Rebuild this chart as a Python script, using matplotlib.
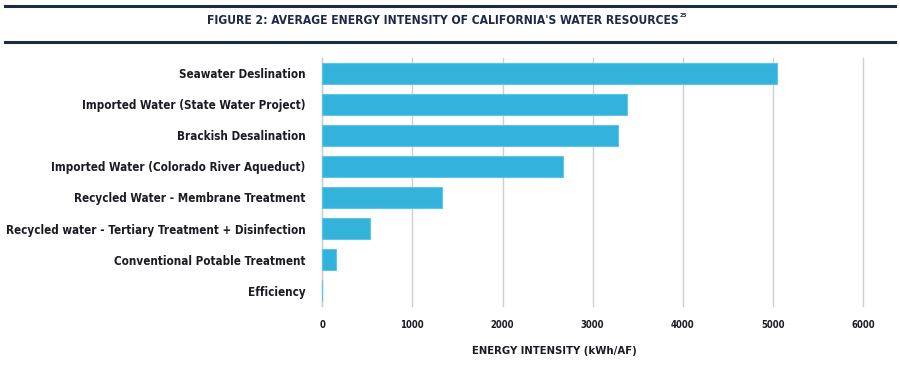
import matplotlib
matplotlib.use('Agg')
import matplotlib.pyplot as plt
from matplotlib.lines import Line2D

categories = ['Seawater Deslination',
              'Imported Water (State Water Project)',
              'Brackish Desalination',
              'Imported Water (Colorado River Aqueduct)',
              'Recycled Water - Membrane Treatment',
              'Recycled water - Tertiary Treatment + Disinfection',
              'Conventional Potable Treatment',
              'Efficiency']
values = [5050, 3385, 3285, 2670, 1330, 530, 155, 0]
xticks = [0, 1000, 2000, 3000, 4000, 5000, 6000]

FONT = ['DejaVu Sans']
NAVY = '#1e2a45'
TEXT = '#1b1b24'
BAR = '#33b3dc'

fig = plt.figure(figsize=(9, 3.71), dpi=100)
renderer = fig.canvas.get_renderer()


def fit_size(s, width_px, size=10):
    # font size that makes string s about width_px wide
    t = fig.text(0, 0, s, family=FONT, weight='bold', stretch='condensed', fontsize=size)
    w = t.get_window_extent(renderer).width
    t.remove()
    return size * width_px / w


lab_size = fit_size(categories[5], 298)
tick_size = fit_size('6000', 24)
xlab_size = fit_size('ENERGY INTENSITY (kWh/AF)', 165)
title_str = "FIGURE 2: AVERAGE ENERGY INTENSITY OF CALIFORNIA'S WATER RESOURCES"
title_size = fit_size(title_str, 470)

ax = fig.add_axes([0.358, 0.175, 0.601, 0.669])

ypos = list(range(len(categories)))
ax.barh(ypos, values, height=0.7, color=BAR, edgecolor='#5cc6e8', linewidth=0.8, zorder=3)

ax.set_ylim(7.5, -0.5)
ax.set_xlim(0, 6000)
ax.set_xticks(xticks)
ax.set_xticklabels([str(t) for t in xticks], family=FONT, weight='bold', stretch='condensed',
                   fontsize=tick_size, color=TEXT)
ax.set_yticks(ypos)
ax.set_yticklabels(categories, family=FONT, weight='bold', stretch='condensed',
                   fontsize=lab_size, color=TEXT)
ax.tick_params(axis='x', length=0, pad=10)
ax.tick_params(axis='y', length=0, pad=12)
ax.xaxis.grid(True, color='#cfcfcf', linewidth=1, zorder=0)
for gl in ax.get_xgridlines():
    gl.set_clip_on(False)
for s in ['top', 'right', 'bottom']:
    ax.spines[s].set_visible(False)
ax.spines['left'].set_color('#cfcfcf')
ax.spines['left'].set_linewidth(1)
ax.set_xlabel('ENERGY INTENSITY (kWh/AF)', family=FONT, weight='bold', stretch='condensed',
              fontsize=xlab_size, color=TEXT)
ax.xaxis.set_label_coords(0.43, -0.16)

# header rules and title
fig.add_artist(Line2D([0.006, 0.994], [1 - 6 / 371, 1 - 6 / 371], color=NAVY, linewidth=2.2))
fig.add_artist(Line2D([0.006, 0.994], [1 - 42 / 371, 1 - 42 / 371], color=NAVY, linewidth=2.2))
title = fig.text(0.492, 1 - 20 / 371, title_str, family=FONT, weight='bold', stretch='condensed',
                 fontsize=title_size, color=NAVY, ha='center', va='center')
bb = title.get_window_extent(renderer).transformed(fig.transFigure.inverted())
fig.text(bb.x1 + 0.001, bb.y1 - 0.006, '25', family=FONT, weight='bold', stretch='condensed',
         fontsize=title_size * 0.5, color=NAVY, ha='left', va='center')

fig.savefig('out.png', dpi=100)
